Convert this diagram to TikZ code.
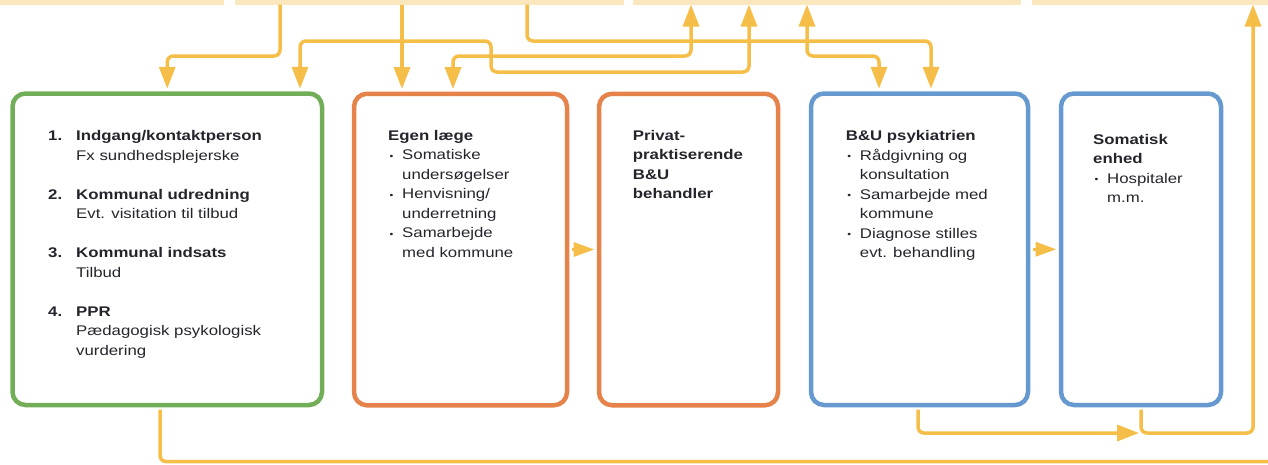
\documentclass[tikz,border=0pt]{standalone}
\usepackage{fontspec}
\setmainfont{Liberation Sans}[FakeStretch=1.2]
\usetikzlibrary{arrows.meta,calc}
\definecolor{cgreen}{HTML}{72AD57}
\definecolor{corange}{HTML}{E5834B}
\definecolor{cblue}{HTML}{6699D0}
\definecolor{cyel}{HTML}{F5BE48}
\definecolor{cbar}{HTML}{FBE7BD}
\definecolor{ctext}{HTML}{24242C}
\newcommand{\mybul}{\makebox[14pt][l]{\hspace{1.5pt}\raisebox{0.8pt}{\fontsize{9}{9}\selectfont •}}}
\newcommand{\myind}{\hspace*{14pt}}
\newcommand{\itemnum}[1]{\makebox[28pt][l]{\textbf{#1}}}
\begin{document}
\begin{tikzpicture}[x=1pt,y=-1pt,
  >={Triangle[length=22pt,width=16pt]},
  box/.style={draw, line width=4.5pt, rounded corners=13pt, minimum height=311.5pt, inner sep=0pt},
  bar/.style={fill=cbar, inner sep=0pt, minimum height=4.5pt, anchor=north west},
  conn/.style={draw=cyel, line width=3.5pt, rounded corners=6pt},
  small/.style={-{Triangle[length=21pt,width=14pt]}},
  txt/.style={anchor=north west, inner sep=0pt, align=left, text=ctext, font=\fontsize{14}{19.5}\selectfont}]
\useasboundingbox (0,0) rectangle (1268,464);

% top bars
\node[bar, minimum width=224pt] (bar1) at (0,0) {};
\node[bar, minimum width=389pt] (bar2) at (235,0) {};
\node[bar, minimum width=388pt] (bar3) at (633,0) {};
\node[bar, minimum width=236pt] (bar4) at (1032,0) {};

% boxes
\node[box, draw=cgreen, minimum width=309.5pt] (green) at (167.25,249.25) {};
\node[box, draw=corange, minimum width=213pt] (egen) at (460.5,249.5) {};
\node[box, draw=corange, minimum width=179pt] (privat) at (688.5,249.5) {};
\node[box, draw=cblue, minimum width=217pt] (bu) at (919.5,249.25) {};
\node[box, draw=cblue, minimum width=160pt] (som) at (1141,249.25) {};

% texts
\node[txt] (greentxt) at (48,130.5) {\itemnum{1.}\textbf{Indgang/kontaktperson}\\
\hspace*{28pt}Fx sundhedsplejerske\\[19.5pt]
\itemnum{2.}\textbf{Kommunal udredning}\\
\hspace*{28pt}Evt. visitation til tilbud\\[19.5pt]
\itemnum{3.}\textbf{Kommunal indsats}\\
\hspace*{28pt}Tilbud\\[19.5pt]
\itemnum{4.}\textbf{PPR}\\
\hspace*{28pt}Pædagogisk psykologisk\\
\hspace*{28pt}vurdering};

\node[txt] (egentxt) at (388,130) {\textbf{Egen læge}\\
\mybul Somatiske\\
\myind undersøgelser\\
\mybul Henvisning/\\
\myind underretning\\
\mybul Samarbejde\\
\myind med kommune};

\node[txt] (privattxt) at (632.7,130) {\textbf{Privat-}\\
\textbf{praktiserende}\\
\textbf{B\&U}\\
\textbf{behandler}};

\node[txt] (butxt) at (845.7,130.5) {\textbf{B\&U psykiatrien}\\
\mybul Rådgivning og\\
\myind konsultation\\
\mybul Samarbejde med\\
\myind kommune\\
\mybul Diagnose stilles\\
\myind evt. behandling};

\node[txt] (somtxt) at (1093,134) {\textbf{Somatisk}\\
\textbf{enhed}\\
\mybul Hospitaler\\
\myind m.m.};

% anchor coordinates on the top bars
\coordinate (a280) at (280,4.5);
\coordinate (a402) at (402,4.5);
\coordinate (a527) at (527,4.5);
\coordinate (a691) at (691,4.5);
\coordinate (a749) at (749,4.5);
\coordinate (a807) at (807,4.5);
\coordinate (a1253) at (1253,4.5);
\coordinate (j) at (1141,433);
\coordinate (edge) at (1268,461.5);

% top connectors
\draw[conn,->,shorten >=2.5pt] (a280) -- (280,56) -- (167.25,56) -- (green.north);
\draw[conn,->,shorten >=2.5pt] (a402) -- ([xshift=-58.5pt]egen.north);
\draw[conn,->,shorten >=2.5pt] (a527) -- (527,41) -- (931,41) -- ([xshift=11.5pt]bu.north);
\draw[conn,<->,shorten <=2.5pt] ([xshift=132.75pt]green.north) -- (300,41) -- (491,41) -- (491,72) -- (749,72) -- (a749);
\draw[conn,<->,shorten <=2.5pt] ([xshift=-7.5pt]egen.north) -- (453,56) -- (691,56) -- (a691);
\draw[conn,<->,shorten >=2.5pt] (a807) -- (807,56) -- (879,56) -- ([xshift=-40.5pt]bu.north);

% side connectors
\draw[conn,small,shorten <=2.25pt,shorten >=2.25pt] (egen.east) -- (privat.west);
\draw[conn,small,shorten <=2.25pt,shorten >=2.25pt] (bu.east) -- (som.west);

% bottom connectors
\draw[conn,shorten <=2.25pt] ([xshift=-7.25pt]green.south) -- (160,461.5) -- (edge);
\draw[conn,->,shorten <=2.25pt] ([xshift=-1.5pt]bu.south) -- (918,433) -- ([xshift=-2pt]j);
\draw[conn,->,shorten <=2.25pt] (som.south) -- (j) -- (1253,433) -- (a1253);
\end{tikzpicture}
\end{document}
